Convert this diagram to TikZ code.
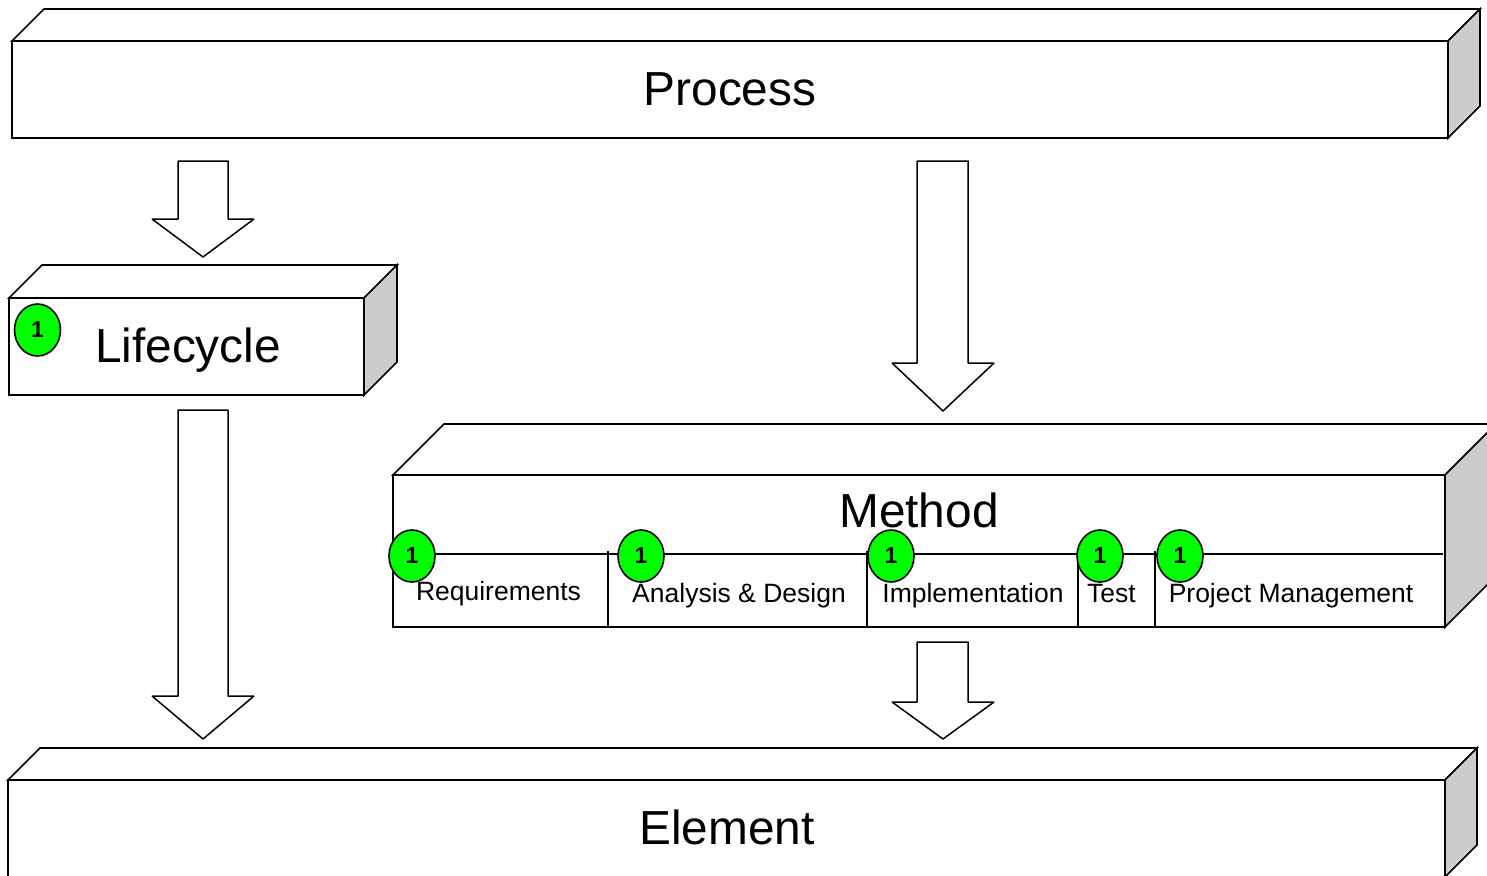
\documentclass[tikz,border=0pt]{standalone}
\usepackage{fontspec}
\setmainfont{Liberation Sans}
\usetikzlibrary{shapes.geometric}
\tikzset{
  x=1pt,y=-1pt,
  edge/.style={draw=black,line width=1.7pt,line join=miter},
  face/.style={edge,fill=white},
  sideface/.style={edge,fill=black!20},
  blockarrow/.style={draw=black,line width=1.5pt,line join=bevel,fill=white},
  bigtext/.style={font=\fontsize{47.8}{50}\selectfont,anchor=base,inner sep=0pt,text=black},
  smalltext/.style={font=\fontsize{26.5}{30}\selectfont,anchor=base,inner sep=0pt,text=black},
  badge/.style={ellipse,draw=black,line width=1.6pt,fill=green,minimum width=46pt,minimum height=52pt,inner sep=0pt,font=\fontsize{23}{24}\selectfont\bfseries,text=black}
}
\newcommand{\cuboid}[5]{% x1,y1,x2,y2,offset
  \path[face] (#1,#2) -- ++(#5,-#5) -- (#3+#5,#2-#5) -- (#3,#2) -- cycle;
  \path[sideface] (#3,#2) -- (#3+#5,#2-#5) -- (#3+#5,#4-#5) -- (#3,#4) -- cycle;
  \path[face] (#1,#2) rectangle (#3,#4);
}
\begin{document}
\begin{tikzpicture}
\useasboundingbox (0,0) rectangle (1487,875);
\clip (0,0) rectangle (1487,875);
% cuboids
\cuboid{12}{41}{1448}{138}{32}
\cuboid{9}{298}{364}{395}{33}
\cuboid{393}{475}{1445}{627}{51}
\cuboid{8}{780}{1445}{877}{32}
% block arrows
\path[blockarrow] (178,161) -- (228,161) -- (228,219) -- (254,219) -- (203,257) -- (152,219) -- (178,219) -- cycle;
\path[blockarrow] (917,161) -- (968,161) -- (968,363) -- (994,363) -- (943,411) -- (892,363) -- (917,363) -- cycle;
\path[blockarrow] (178,410) -- (228,410) -- (228,696) -- (254,696) -- (203,739) -- (152,696) -- (178,696) -- cycle;
\path[blockarrow] (917,642) -- (968,642) -- (968,702) -- (994,702) -- (943,739) -- (892,702) -- (917,702) -- cycle;
% method compartments
\draw[edge] (393,554) -- (1443,554);
\draw[edge] (608,551) -- (608,627);
\draw[edge] (867,551) -- (867,627);
\draw[edge] (1078,554) -- (1078,627);
\draw[edge] (1155,551) -- (1155,627);
% labels
\node[bigtext] (process) at (730,105) {Process};
\node[bigtext] (lifecycle) at (188,362) {Lifecycle};
\node[bigtext] (method) at (919,527) {Method};
\node[bigtext] (element) at (727,844) {Element};
\node[smalltext] (req) at (498.5,600) {Requirements};
\node[smalltext] (ad) at (739,602) {Analysis \& Design};
\node[smalltext] (impl) at (973,602) {Implementation};
\node[smalltext] (test) at (1111.5,602) {Test};
\node[smalltext] (pm) at (1291,602) {Project Management};
% badges
\node[badge] (b0) at (37.5,330) {1};
\node[badge] (b1) at (412,556) {1};
\node[badge] (b2) at (641,556) {1};
\node[badge] (b3) at (891,556) {1};
\node[badge] (b4) at (1100,556) {1};
\node[badge] (b5) at (1180,556) {1};
\end{tikzpicture}
\end{document}
